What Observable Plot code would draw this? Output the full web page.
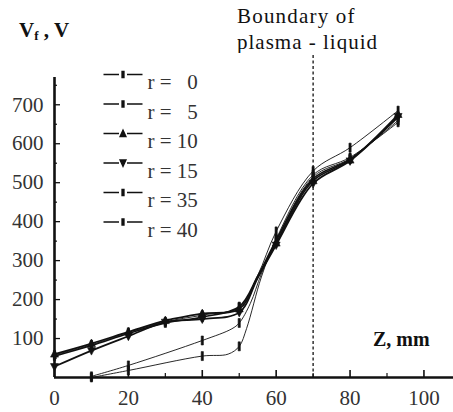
<!DOCTYPE html>
<html><head><meta charset="utf-8">
<script src="https://cdn.jsdelivr.net/npm/d3@7"></script>
<script src="https://cdn.jsdelivr.net/npm/@observablehq/plot@0.6"></script>
<style>
body{margin:0;background:#fff}
#wrap{position:relative;width:453px;height:412px;overflow:hidden;font-family:"Liberation Serif";background:#fff}
.ann{position:absolute;color:#111;white-space:nowrap;line-height:21px}
#wrap svg{position:absolute;left:0;top:0}
</style></head><body>
<div id="wrap">
</div>
<script>
// ---- data ----
const seriesNames = ["r = 0", "r = 5", "r = 10", "r = 15", "r = 35", "r = 40"];
const z_r0  = [0, 10, 20, 30, 40, 50, 55, 60, 70, 80, 93];
const v_r0  = [58, 84, 116, 143, 160, 180, 262, 375, 530, 590, 685];
const z_r5  = [0, 10, 20, 30, 40, 50, 55, 60, 70, 80, 93];
const v_r5  = [55, 82, 113, 140, 155, 182, 260, 352, 510, 560, 668];
const z_r10 = [0, 10, 20, 30, 40, 50, 55, 60, 70, 80, 93];
const v_r10 = [60, 87, 117, 146, 164, 176, 257, 345, 505, 558, 675];
const z_r15 = [0, 10, 20, 30, 40, 50, 55, 60, 70, 80, 93];
const v_r15 = [28, 69, 106, 142, 150, 167, 255, 340, 498, 556, 670];
const z_r35 = [10, 20, 40, 48, 50, 53, 56, 60, 70, 80, 93];
const v_r35 = [3, 31, 95, 125, 140, 190, 266, 350, 515, 562, 660];
const z_r40 = [10, 20, 40, 47, 50, 52, 56, 60, 70, 80, 93];
const v_r40 = [0, 18, 55, 60, 80, 126, 258, 355, 520, 565, 655];
const boundaryZ = [70];
const xTickLabels = [0, 20, 40, 60, 80, 100];
const xMinorTicks = [10, 30, 50, 70, 90];
const yTickLabels = [100, 200, 300, 400, 500, 600, 700];
const yMinorTicks = [50, 150, 250, 350, 450, 550, 650, 750];
const markerShape = ["bar", "bar", "up", "down", "bar", "bar"];

const zs = [z_r0, z_r5, z_r10, z_r15, z_r35, z_r40];
const vs = [v_r0, v_r5, v_r10, v_r15, v_r35, v_r40];
const rows = [];
seriesNames.forEach((s, i) => zs[i].forEach((z, j) => rows.push({series: s, shape: markerShape[i], z, v: vs[i][j]})));
const markerRows = rows.filter(d => d.z % 10 === 0 || d.z === 93);

const sym = {
  bar: {draw(c) { c.rect(-1.1, -4.5, 2.2, 9); }},
  up: {draw(c) { c.moveTo(0, -4.5); c.lineTo(4, 3); c.lineTo(-4, 3); c.closePath(); }},
  down: {draw(c) { c.moveTo(0, 4.5); c.lineTo(4, -3); c.lineTo(-4, -3); c.closePath(); }}
};
const legSym = (shape) => ({draw(c) {
  c.moveTo(-19.5, 0); c.lineTo(-4, 0); c.moveTo(4, 0); c.lineTo(19.5, 0);
  if (shape === "bar") { c.moveTo(-1, -3); c.lineTo(1, -3); c.lineTo(1, 3); c.lineTo(-1, 3); c.closePath(); }
  else if (shape === "up") { c.moveTo(0, -3.5); c.lineTo(3, 3); c.lineTo(-3, 3); c.closePath(); }
  else { c.moveTo(0, 3.5); c.lineTo(3, -3); c.lineTo(-3, -3); c.closePath(); }
}});

const legendMarks = seriesNames.flatMap((name, i) => [
  Plot.dot([name], {frameAnchor: "top-left", dx: 68.5, dy: -3 + i * 29.5, symbol: legSym(markerShape[i]), stroke: "#111", fill: "#111", strokeWidth: 1.3}),
  Plot.text([name], {frameAnchor: "top-left", dx: 93, dy: -3 + i * 29.5, text: d => d.replace(/= (\d)$/, "= \u2007$1"), textAnchor: "start", fontSize: 21, fill: "#333", style: "letter-spacing:0.6px"})
]);

const isLower = d => d.series === "r = 35" || d.series === "r = 40";
const isThin = d => isLower(d) || d.series === "r = 0";

const chart = Plot.plot({
  width: 453, height: 412,
  marginLeft: 54, marginRight: 0, marginTop: 77, marginBottom: 35,
  x: {domain: [0, 108]},
  y: {domain: [0, 770]},
  style: {fontFamily: "Liberation Serif", background: "transparent", color: "#333"},
  marks: [
    Plot.axisY(yTickLabels, {tickSize: 0, tickPadding: 11, fontSize: 21, fill: "#333", label: null}),
    Plot.axisX(xTickLabels, {tickSize: 0, tickPadding: 13, fontSize: 21, fill: "#333", label: null, style: "letter-spacing:2px"}),
    Plot.tickY(yTickLabels, {y: d => d, insetRight: 453 - 54 - 6, stroke: "#111", strokeWidth: 1.3}),
    Plot.tickY(yMinorTicks, {y: d => d, insetRight: 453 - 54 - 3, stroke: "#111", strokeWidth: 1.2}),
    Plot.tickX(xTickLabels, {x: d => d, insetTop: 300 - 7, stroke: "#111", strokeWidth: 1.6}),
    Plot.tickX(xMinorTicks, {x: d => d, insetTop: 300 - 4, stroke: "#111", strokeWidth: 1.2}),
    Plot.ruleX(boundaryZ, {stroke: "#111", strokeWidth: 1.3, strokeDasharray: "3,2.5", insetTop: -22}),
    Plot.line(rows.filter(d => !isThin(d)), {x: "z", y: "v", z: "series", curve: "catmull-rom", stroke: "#111", strokeWidth: 1.7}),
    Plot.line(rows.filter(isThin), {x: "z", y: "v", z: "series", curve: "catmull-rom", stroke: "#111", strokeWidth: 0.9}),
    Plot.dot(markerRows, {x: "z", y: "v", symbol: d => sym[d.shape], fill: "#111", stroke: "#111", strokeWidth: 0.6}),
    Plot.ruleX([0], {stroke: "#111", strokeWidth: 2.6}),
    Plot.ruleY([0], {stroke: "#111", strokeWidth: 2.6}),
    ...legendMarks
  ]
});
const wrap = document.getElementById("wrap");
wrap.appendChild(chart);

const ann = (html, css) => { const d = document.createElement("div"); d.className = "ann"; d.innerHTML = html; d.style.cssText += css; wrap.appendChild(d); };
ann('V<span style="font-size:13px;vertical-align:-3px">f</span> , V', "left:19px;top:20px;font-size:21px;font-weight:bold;");
ann("Z, mm", "left:373px;top:329px;font-size:20px;font-weight:bold;");
ann("Boundary of", "left:237px;top:6px;font-size:21px;letter-spacing:1.2px;");
ann('<div style="height:21px;overflow:hidden">plasma - liquid</div>', "left:237px;top:32px;font-size:21px;letter-spacing:1px;");
</script>
</body></html>
